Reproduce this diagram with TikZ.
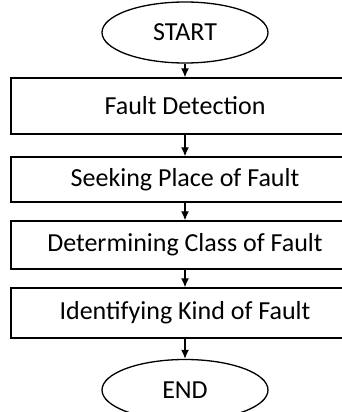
\documentclass[tikz,border=0pt]{standalone}
\usepackage{fontspec}
\setmainfont{Carlito}
\usetikzlibrary{arrows.meta,shapes.geometric}

\begin{document}
\begin{tikzpicture}
	[x=1pt,y=-1pt,font=\fontsize{26}{30}\selectfont,
	 term/.style={ellipse, draw, line width=1.3pt, minimum width=166pt, minimum height=61pt, inner sep=0pt},
	 stage/.style={rectangle, draw, line width=1.3pt, minimum width=348pt, inner sep=0pt}]
	\useasboundingbox (0,0) rectangle (342,412);
	\clip (0,0) rectangle (342,412);
	\node[term] (start) at (185,32.5) {START};
	\node[stage, minimum height=56pt] (s1) at (185,106) {Fault Detection};
	\node[stage, minimum height=45pt] (s2) at (185,179.5) {Seeking Place of Fault};
	\node[stage, minimum height=48pt] (s3) at (185,245) {Determining Class of Fault};
	\node[stage, minimum height=50pt] (s4) at (185,313) {Identifying Kind of Fault};
	\node[term] (end) at (185,390) {END};
	
	\foreach \from/\to in {start/s1,s1/s2,s2/s3,s3/s4,s4/end}
	\draw[-{Latex[length=9pt,width=8pt]}, line width=1.3pt] (\from) -- (\to);
\end{tikzpicture}
\end{document}
